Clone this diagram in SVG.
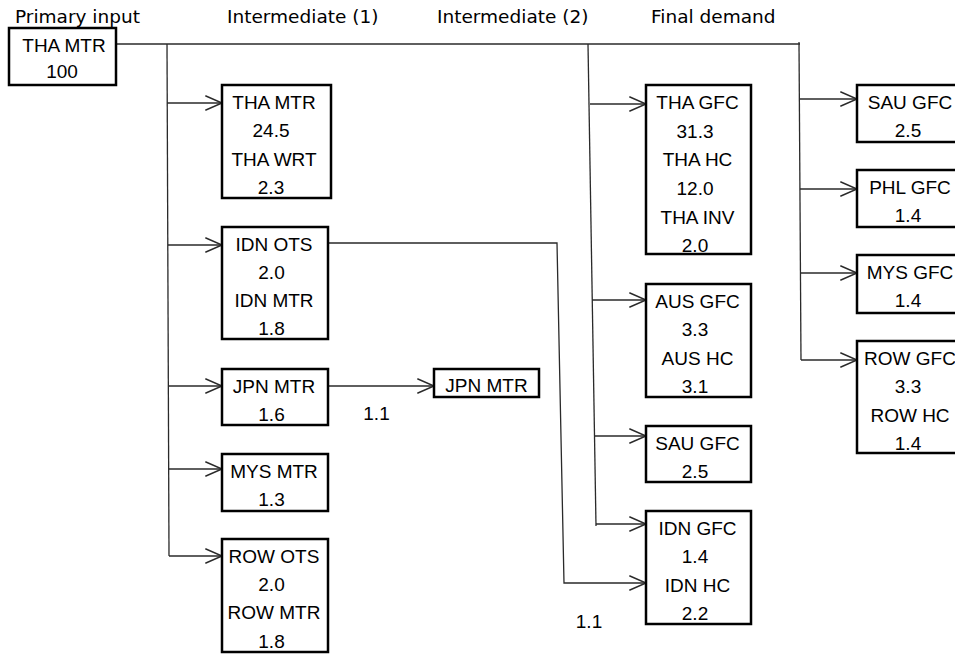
<svg xmlns="http://www.w3.org/2000/svg" width="955" height="654" viewBox="0 0 955 654">
<defs>
<style>
.hdr{font-family:"DejaVu Sans",sans-serif;font-size:18.5px;fill:#000}
.box{fill:#fff;stroke:#000;stroke-width:2.5}
.t{font-family:"Liberation Sans",Arial,sans-serif;font-size:19px;fill:#000;text-anchor:middle}
.ln{fill:none;stroke:#2a2a2a;stroke-width:1.3}
.ar{fill:none;stroke:#2a2a2a;stroke-width:1.3;marker-end:url(#ah)}
</style>
<marker id="ah" markerUnits="userSpaceOnUse" markerWidth="20" markerHeight="20" refX="0" refY="0" viewBox="-16 -8 18 16" orient="auto">
<path d="M-15,-6.5 L0,0 L-15,6.5" fill="none" stroke="#2a2a2a" stroke-width="1.3"/>
</marker>
</defs>
<rect width="955" height="654" fill="#fff"/>

<g id="headers">
<text class="hdr" x="15" y="23">Primary input</text>
<text class="hdr" x="227" y="23">Intermediate (1)</text>
<text class="hdr" x="437" y="23">Intermediate (2)</text>
<text class="hdr" x="651" y="23">Final demand</text>
</g>

<g id="connectors">
<path class="ln" d="M116,44 H800"/>
<path class="ln" d="M799,42 L801,360"/>
<path class="ln" d="M167,44 L169,556"/>
<path class="ln" d="M588,44 L596,526"/>
<path class="ar" d="M167,103 H222"/>
<path class="ar" d="M168,245 H222"/>
<path class="ar" d="M168,386 H222"/>
<path class="ar" d="M169,469 H222"/>
<path class="ar" d="M169,556 H222"/>
<path class="ar" d="M590,104 H646"/>
<path class="ar" d="M592,300 H646"/>
<path class="ar" d="M595,436 H646"/>
<path class="ar" d="M596,524 H646"/>
<path class="ar" d="M800,99 H857"/>
<path class="ar" d="M800,189 H857"/>
<path class="ar" d="M800,273 H857"/>
<path class="ar" d="M801,360 H857"/>
<path class="ar" d="M328,386 H434"/>
<path class="ar" d="M328,243 H557 L564,583 H646"/>
<text class="t" x="376.5" y="420">1.1</text>
<text class="t" x="589" y="628">1.1</text>
</g>

<g id="n_primary">
<rect class="box" x="9" y="28" width="107" height="57"/>
<text class="t" x="64" y="52">THA MTR</text>
<text class="t" x="62" y="78">100</text>
</g>

<g id="n_c1_tha">
<rect class="box" x="222" y="85" width="109" height="113"/>
<text class="t" x="274" y="109">THA MTR</text>
<text class="t" x="271" y="137">24.5</text>
<text class="t" x="274" y="166">THA WRT</text>
<text class="t" x="271" y="194">2.3</text>
</g>

<g id="n_c1_idn">
<rect class="box" x="222" y="227" width="106" height="112"/>
<text class="t" x="274" y="251">IDN OTS</text>
<text class="t" x="271.5" y="279">2.0</text>
<text class="t" x="274" y="307">IDN MTR</text>
<text class="t" x="271.5" y="335">1.8</text>
</g>

<g id="n_c1_jpn">
<rect class="box" x="222" y="369" width="106" height="56"/>
<text class="t" x="274" y="393">JPN MTR</text>
<text class="t" x="271.5" y="421">1.6</text>
</g>

<g id="n_c1_mys">
<rect class="box" x="222" y="454" width="106" height="57"/>
<text class="t" x="274" y="478">MYS MTR</text>
<text class="t" x="271.5" y="506">1.3</text>
</g>

<g id="n_c1_row">
<rect class="box" x="222" y="539" width="106" height="113"/>
<text class="t" x="274" y="562.5">ROW OTS</text>
<text class="t" x="271.5" y="591">2.0</text>
<text class="t" x="274" y="619">ROW MTR</text>
<text class="t" x="271.5" y="647.5">1.8</text>
</g>

<g id="n_c2_jpn">
<rect class="box" x="434" y="369" width="105" height="28"/>
<text class="t" x="486.5" y="392">JPN MTR</text>
</g>

<g id="n_fd_tha">
<rect class="box" x="646" y="85" width="105" height="169"/>
<text class="t" x="697.5" y="108.5">THA GFC</text>
<text class="t" x="695" y="137.5">31.3</text>
<text class="t" x="697.5" y="166">THA HC</text>
<text class="t" x="695" y="195">12.0</text>
<text class="t" x="697.5" y="223.5">THA INV</text>
<text class="t" x="695" y="252">2.0</text>
</g>

<g id="n_fd_aus">
<rect class="box" x="646" y="284" width="105" height="113"/>
<text class="t" x="697.5" y="307.5">AUS GFC</text>
<text class="t" x="695" y="336">3.3</text>
<text class="t" x="697.5" y="364.5">AUS HC</text>
<text class="t" x="695" y="393">3.1</text>
</g>

<g id="n_fd_sau">
<rect class="box" x="646" y="426" width="105" height="56"/>
<text class="t" x="697.5" y="449.5">SAU GFC</text>
<text class="t" x="695" y="478">2.5</text>
</g>

<g id="n_fd_idn">
<rect class="box" x="646" y="511" width="105" height="113"/>
<text class="t" x="697.5" y="534.5">IDN GFC</text>
<text class="t" x="695" y="563">1.4</text>
<text class="t" x="697.5" y="591.5">IDN HC</text>
<text class="t" x="695" y="620">2.2</text>
</g>

<g id="n_fr_sau">
<rect class="box" x="857" y="85" width="106" height="57"/>
<text class="t" x="910" y="108.5">SAU GFC</text>
<text class="t" x="908" y="137">2.5</text>
</g>

<g id="n_fr_phl">
<rect class="box" x="857" y="170" width="106" height="57"/>
<text class="t" x="910" y="193.5">PHL GFC</text>
<text class="t" x="908" y="222">1.4</text>
</g>

<g id="n_fr_mys">
<rect class="box" x="857" y="255" width="106" height="58"/>
<text class="t" x="910" y="278.5">MYS GFC</text>
<text class="t" x="908" y="307">1.4</text>
</g>

<g id="n_fr_row">
<rect class="box" x="857" y="341" width="106" height="112"/>
<text class="t" x="910" y="364.5">ROW GFC</text>
<text class="t" x="908" y="393">3.3</text>
<text class="t" x="910" y="421.5">ROW HC</text>
<text class="t" x="908" y="450">1.4</text>
</g>
</svg>
